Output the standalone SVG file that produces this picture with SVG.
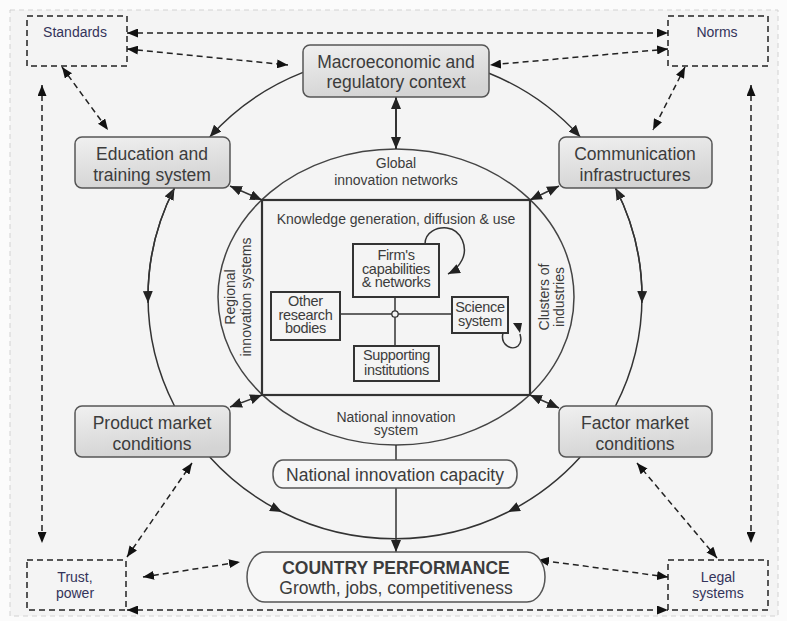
<svg xmlns="http://www.w3.org/2000/svg" width="787" height="621" viewBox="0 0 787 621">
<defs>
<linearGradient id="g" x1="0" y1="0" x2="0.3" y2="1">
<stop offset="0" stop-color="#f0f0f0"/>
<stop offset="1" stop-color="#d4d4d4"/>
</linearGradient>
<marker id="ah" markerUnits="userSpaceOnUse" markerWidth="12" markerHeight="10" viewBox="0 0 12 10" refX="12" refY="5" orient="auto-start-reverse">
<path d="M0,0 L12,5 L0,10 z" fill="#222"/>
</marker>
<marker id="dh" markerUnits="userSpaceOnUse" markerWidth="11" markerHeight="9" viewBox="0 0 11 9" refX="11" refY="4.5" orient="auto-start-reverse">
<path d="M0,0 L11,4.5 L0,9 z" fill="#111"/>
</marker>
<style>
.nb{fill:url(#g);stroke:#555;stroke-width:1.5}
.db{fill:none;stroke:#222;stroke-width:1.5;stroke-dasharray:6 4}
.dl{fill:none;stroke:#222;stroke-width:1.5;stroke-dasharray:6 4;marker-start:url(#dh);marker-end:url(#dh)}
.sl{fill:none;stroke:#333;stroke-width:1.5}
.sb{fill:none;stroke:#333;stroke-width:2}
.t{font-family:"Liberation Sans",Arial,sans-serif;fill:#3c3c3c;text-anchor:middle}
.tb{font-size:17.5px}
.tm{font-size:14px}
.ts{font-size:14.5px;letter-spacing:-0.3px}
.tq{font-family:"Liberation Sans",Arial,sans-serif;fill:#33335a;text-anchor:middle;font-size:14px}
</style>
</defs>
<rect x="0" y="0" width="787" height="621" fill="#fbfbfb"/>
<rect x="10" y="10" width="768" height="606" fill="#f4f4f4" stroke="#d2d2d2" stroke-width="1" stroke-dasharray="5 4"/>

<g id="connectors">
<!-- outer ring arcs -->
<path class="sl" d="M303,72.4 A247,242 0 0 0 209.7,137" marker-end="url(#ah)"/>
<path class="sl" d="M489,73.2 A247,242 0 0 1 580.3,137" marker-end="url(#ah)"/>
<path class="sl" d="M174.5,406 A247,242 0 0 1 174.5,188" marker-end="url(#ah)"/>
<path class="sl" d="M174.5,188 A247,242 0 0 0 148.1,303" marker-end="url(#ah)"/>
<path class="sl" d="M615.5,406 A247,242 0 0 0 615.5,188" marker-end="url(#ah)"/>
<path class="sl" d="M615.5,188 A247,242 0 0 1 641.9,303" marker-end="url(#ah)"/>
<path class="sl" d="M209.7,457 A247,242 0 0 0 282,512" marker-end="url(#ah)"/>
<path class="sl" d="M580.3,457 A247,242 0 0 1 508,512" marker-end="url(#ah)"/>
<path class="sl" d="M282,512 A247,242 0 0 0 508,512"/>
<!-- inner ellipse and system -->
<ellipse cx="396" cy="297" rx="178" ry="148" fill="none" stroke="#444" stroke-width="1.5"/>
<rect x="262" y="200" width="268" height="195" fill="none" stroke="#333" stroke-width="2.2"/>
<!-- corner double arrows -->
<line class="sl" x1="230" y1="186" x2="262" y2="200" marker-start="url(#ah)" marker-end="url(#ah)"/>
<line class="sl" x1="559" y1="186" x2="530" y2="200" marker-start="url(#ah)" marker-end="url(#ah)"/>
<line class="sl" x1="230" y1="407" x2="262" y2="395" marker-start="url(#ah)" marker-end="url(#ah)"/>
<line class="sl" x1="559" y1="408" x2="530" y2="395" marker-start="url(#ah)" marker-end="url(#ah)"/>
<line x1="396" y1="97" x2="396" y2="149" stroke="#333" stroke-width="2" marker-start="url(#ah)" marker-end="url(#ah)"/>
<line class="sl" x1="396" y1="445" x2="396" y2="460"/>
<line class="sl" x1="396" y1="488" x2="396" y2="552" marker-end="url(#ah)"/>
<!-- inner cross -->
<line class="sl" x1="395" y1="297" x2="395" y2="346"/>
<line class="sl" x1="340" y1="314" x2="452" y2="314"/>
<circle cx="395" cy="314" r="3.2" fill="#f4f4f4" stroke="#333" stroke-width="1.3"/>
<path class="sl" d="M425,244 C425,232 437,227 447,228 C462,230 468,248 462,260 C458,268 452,272 448,274" marker-end="url(#ah)"/>
<path class="sl" d="M503,333 C500,345 512,351 518,346 C522,342 521,338 520,334"/>
<polygon points="513,323 522,323 520,333" fill="#222"/>
<!-- dashed -->
<line class="dl" x1="127" y1="33" x2="668" y2="33"/>
<line class="dl" x1="127" y1="49" x2="288" y2="65"/>
<line class="dl" x1="668" y1="49" x2="490" y2="65"/>
<line class="dl" x1="62" y1="67" x2="108" y2="130"/>
<line class="dl" x1="685" y1="67" x2="653" y2="130"/>
<line class="dl" x1="42" y1="85" x2="42" y2="543"/>
<line class="dl" x1="751" y1="85" x2="751" y2="543"/>
<line class="dl" x1="127" y1="610" x2="668" y2="610"/>
<line class="dl" x1="143" y1="577" x2="240" y2="562"/>
<line class="dl" x1="668" y1="577" x2="538" y2="560"/>
<line class="dl" x1="127" y1="557" x2="192" y2="463"/>
<line class="dl" x1="717" y1="558" x2="637" y2="463"/>
</g>

<g id="standards"><rect class="db" x="27" y="16" width="100" height="50"/><text class="tq" x="75" y="37">Standards</text></g>
<g id="norms"><rect class="db" x="668" y="16" width="100" height="50"/><text class="tq" x="717" y="37">Norms</text></g>
<g id="trust"><rect class="db" x="27" y="560" width="99" height="50"/><text class="tq" x="75" y="582">Trust,</text><text class="tq" x="75" y="598">power</text></g>
<g id="legal"><rect class="db" x="668" y="560" width="100" height="50"/><text class="tq" x="718" y="582">Legal</text><text class="tq" x="718" y="598">systems</text></g>

<g id="macro"><rect class="nb" x="303" y="45" width="186" height="52" rx="7"/><text class="t tb" x="396" y="68">Macroeconomic and</text><text class="t tb" x="396" y="88">regulatory context</text></g>
<g id="education"><rect class="nb" x="75" y="137" width="155" height="51" rx="7"/><text class="t tb" x="152" y="160">Education and</text><text class="t tb" x="152" y="181">training system</text></g>
<g id="communication"><rect class="nb" x="559" y="137" width="153" height="51" rx="7"/><text class="t tb" x="635" y="160">Communication</text><text class="t tb" x="635" y="181">infrastructures</text></g>
<g id="product"><rect class="nb" x="75" y="406" width="155" height="51" rx="7"/><text class="t tb" x="152" y="429">Product market</text><text class="t tb" x="152" y="450">conditions</text></g>
<g id="factor"><rect class="nb" x="559" y="406" width="153" height="51" rx="7"/><text class="t tb" x="635" y="429">Factor market</text><text class="t tb" x="635" y="450">conditions</text></g>

<g id="nis-labels">
<text class="t tm" x="396" y="168">Global</text>
<text class="t tm" x="396" y="185">innovation networks</text>
<text class="t tm" x="396" y="422">National innovation</text>
<text class="t tm" x="396" y="435">system</text>
<text class="t tm" transform="translate(235,297) rotate(-90)">Regional</text>
<text class="t tm" transform="translate(251,297) rotate(-90)">innovation systems</text>
<text class="t tm" transform="translate(549,297) rotate(-90)">Clusters of</text>
<text class="t tm" transform="translate(564,297) rotate(-90)">industries</text>
<text class="t tm" x="396" y="224">Knowledge generation, diffusion &amp; use</text>
</g>

<g id="firm"><rect class="sb" x="353" y="244" width="86" height="53"/><text class="t ts" x="396" y="260">Firm's</text><text class="t ts" x="396" y="273.5">capabilities</text><text class="t ts" x="396" y="287">&amp; networks</text></g>
<g id="other"><rect class="sb" x="271" y="292" width="69" height="48"/><text class="t ts" x="305.5" y="306">Other</text><text class="t ts" x="305.5" y="320">research</text><text class="t ts" x="305.5" y="333">bodies</text></g>
<g id="science"><rect class="sb" x="452" y="297" width="56" height="36"/><text class="t ts" x="480" y="312">Science</text><text class="t ts" x="480" y="326">system</text></g>
<g id="supporting"><rect class="sb" x="354" y="346" width="85" height="35"/><text class="t ts" x="396.5" y="360">Supporting</text><text class="t ts" x="396.5" y="375">institutions</text></g>

<g id="capacity"><rect x="273" y="460" width="244" height="28" rx="10" ry="13" fill="#f6f6f6" stroke="#555" stroke-width="1.5"/><text class="t tb" x="395" y="481">National innovation capacity</text></g>
<g id="performance"><rect x="247" y="552" width="298" height="50" rx="18" ry="25" fill="#f7f7f7" stroke="#555" stroke-width="1.5"/><text class="t tb" x="396" y="574" font-weight="bold" fill="#333">COUNTRY PERFORMANCE</text><text class="t tb" x="396" y="594">Growth, jobs, competitiveness</text></g>
</svg>
